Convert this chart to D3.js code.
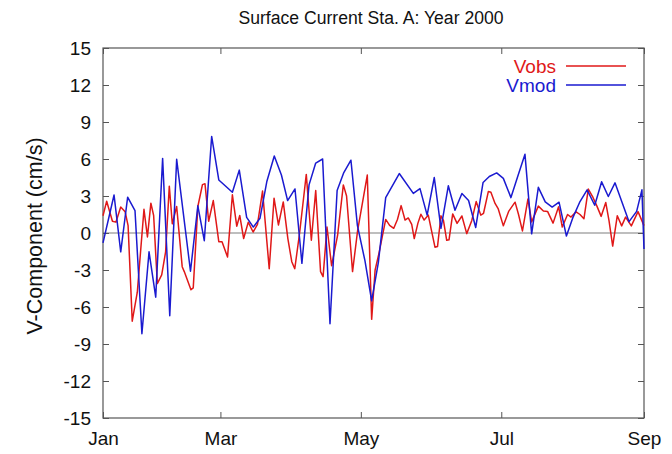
<!DOCTYPE html>
<html><head><meta charset="utf-8">
<script src="https://cdn.jsdelivr.net/npm/d3@7"></script>
<style>
html,body{margin:0;padding:0;background:#fff;}
text{font-family:"Liberation Sans",Arial,Helvetica,sans-serif;}
</style></head>
<body><svg id="c" width="672" height="454"></svg>
<script>
// Day of year 2000 (0 = Jan 1)
const obsDays = [9.0,10.6,13.1,14.6,16.7,18.6,19.9,21.7,23.9,26.8,28.3,29.8,31.0,32.6,34.5,36.2,37.8,39.1,41.0,43.4,44.3,47.2,48.2,50.2,52.2,53.3,54.9,56.9,59.3,60.7,63.1,65.2,67.1,68.4,70.1,72.1,74.2,76.1,78.3,81.2,83.3,85.2,87.3,89.3,91.0,92.3,94.4,97.3,99.5,101.4,103.5,104.6,106.3,108.3,110.9,113.4,114.8,117.4,119.6,123.8,125.7,127.2,128.9,131.8,133.5,135.3,136.9,138.5,140.2,141.6,143.1,144.2,145.8,147.1,148.5,150.3,151.7,153.2,154.3,155.8,156.9,158.3,159.3,160.9,162.8,164.9,167.0,169.2,171.1,173.1,174.3,176.4,177.5,179.3,180.7,182.9,185.2,188.0,189.5,191.2,193.6,195.2,198.1,200.3,202.1,204.5,206.9,208.5,210.8,212.3,214.5,216.2,217.9,219.8,221.8,223.5,225.4,227.4,228.8,230.4,232.4,234.3,236.0,238.5,241.4,244.0];
const obsV = [1.4,2.58,0.95,0.88,2.1,1.73,0.6,-7.15,-4.8,1.92,-0.32,2.42,1.42,-4.1,-3.4,-1.53,3.8,0.75,2.15,-2.73,-3.13,-4.6,-4.45,2.15,3.92,4.0,0.95,2.63,-0.7,-0.7,-1.95,3.1,0.55,1.42,-0.45,0.88,0.08,0.7,3.4,-2.9,2.82,0.65,2.52,-0.45,-2.33,-2.9,0.0,4.75,-0.59,3.45,-3.13,-3.54,0.48,-2.65,-0.2,3.9,3.0,-3.13,0.2,4.7,-7.0,-3.0,-1.63,1.1,0.62,0.38,1.1,2.22,1.05,1.22,0.7,-0.45,0.8,1.52,1.05,1.45,0.2,-1.15,-1.1,1.4,1.0,-0.59,-0.55,1.55,0.78,1.38,-0.05,1.02,2.55,1.45,1.6,3.37,3.3,2.4,1.95,0.58,1.75,2.5,1.5,0.17,2.76,0.9,2.18,1.78,1.75,0.8,2.12,0.48,1.5,1.29,1.72,1.5,1.15,3.56,2.9,2.2,1.35,2.47,1.0,-1.06,1.4,0.58,1.29,0.58,1.73,0.6];
const modDays = [9.0,13.8,16.7,19.7,22.9,25.9,29.0,31.9,34.9,38.0,41.0,47.0,50.2,53.0,56.2,59.3,65.2,68.2,71.4,74.3,77.2,80.2,83.4,86.5,89.2,92.4,95.4,98.5,101.4,104.4,107.6,110.7,113.6,116.7,119.5,122.8,125.7,128.6,131.8,137.7,143.8,146.7,149.8,152.9,155.8,159.0,161.9,164.9,167.8,170.9,174.1,176.8,180.0,182.9,186.2,189.0,192.3,195.2,198.1,201.1,204.1,207.1,210.3,213.2,216.2,219.3,222.6,225.6,228.5,231.4,237.5,240.8,243.1,244.0];
const modV = [-0.8,3.08,-1.53,2.9,1.82,-8.17,-1.53,-5.2,6.05,-6.7,5.97,-3.1,2.2,-0.62,7.83,4.3,3.3,5.1,1.27,0.48,1.2,4.2,6.25,4.7,2.63,3.57,-2.46,3.9,5.67,6.0,-7.36,3.45,4.9,5.9,0.62,-2.26,-5.5,-2.4,2.87,4.82,3.21,3.6,1.45,4.5,0.38,3.83,1.85,3.2,2.63,0.45,4.1,4.58,4.87,4.43,2.87,4.5,6.38,-0.07,3.7,2.52,2.1,2.5,-0.25,1.29,2.55,3.5,2.25,4.15,2.96,4.07,0.92,1.75,3.5,-1.3];
const yTicks = [-15,-12,-9,-6,-3,0,3,6,9,12,15];
const yTickLabels = ["-15","-12","-9","-6","-3","0","3","6","9","12","15"];
const xTickDays = [9,60,121,182,244];
const xTickLabels = ["Jan","Mar","May","Jul","Sep"];
const seriesNames = ["Vobs","Vmod"];
const seriesColors = ["#e01818","#1a1ad0"];
const titleText = "Surface Current Sta. A: Year 2000";
const yLabel = "V-Component (cm/s)";

const svg = d3.select("#c");
const L=103,R=644,T=48,B=418;
const x = d3.scaleLinear().domain([9,244]).range([L,R]);
const y = d3.scaleLinear().domain([-15,15]).range([B,T]);
const frameCol="#555";

// zero line
svg.append("line").attr("x1",L).attr("x2",R).attr("y1",y(0)).attr("y2",y(0))
  .attr("stroke","#a8a8a8").attr("stroke-width",1.5);

// frame
svg.append("rect").attr("x",L).attr("y",T).attr("width",R-L).attr("height",B-T)
  .attr("fill","none").attr("stroke",frameCol).attr("stroke-width",1.2);

// y axis (left inward ticks) + labels
const yAxis = d3.axisLeft(y).tickValues(yTicks).tickSizeInner(-6).tickSizeOuter(0).tickPadding(12)
  .tickFormat((d,i)=>yTickLabels[i]);
const gy = svg.append("g").attr("transform",`translate(${L},0)`).call(yAxis);
gy.select(".domain").remove();
gy.selectAll("line").attr("stroke",frameCol);
gy.selectAll("text").attr("font-size",19).attr("fill","#111").attr("dy","0.36em");
// right mirrored ticks
const gyr = svg.append("g").attr("transform",`translate(${R},0)`)
  .call(d3.axisRight(y).tickValues(yTicks).tickSizeInner(-6).tickSizeOuter(0).tickFormat(""));
gyr.select(".domain").remove();
gyr.selectAll("line").attr("stroke",frameCol);

// x axis
const xAxis = d3.axisBottom(x).tickValues(xTickDays).tickSizeInner(-6).tickSizeOuter(0)
  .tickPadding(14).tickFormat((d,i)=>xTickLabels[i]);
const gx = svg.append("g").attr("transform",`translate(0,${B})`).call(xAxis);
gx.select(".domain").remove();
gx.selectAll("line").attr("stroke",frameCol);
gx.selectAll("text").attr("font-size",19).attr("fill","#111");
const gxt = svg.append("g").attr("transform",`translate(0,${T})`)
  .call(d3.axisTop(x).tickValues(xTickDays).tickSizeInner(-6).tickSizeOuter(0).tickFormat(""));
gxt.select(".domain").remove();
gxt.selectAll("line").attr("stroke",frameCol);

// lines
const line = d3.line().x(d=>x(d[0])).y(d=>y(d[1]));
const obs = obsDays.map((d,i)=>[d,obsV[i]]);
const mod = modDays.map((d,i)=>[d,modV[i]]);
svg.append("path").datum(obs).attr("d",line).attr("fill","none")
  .attr("stroke",seriesColors[0]).attr("stroke-width",1.5).attr("stroke-linejoin","round");
svg.append("path").datum(mod).attr("d",line).attr("fill","none")
  .attr("stroke",seriesColors[1]).attr("stroke-width",1.5).attr("stroke-linejoin","round");

// legend
seriesNames.forEach((n,i)=>{
  const yy = 66 + i*19;
  svg.append("text").attr("x",556).attr("y",yy).attr("dy","0.36em").attr("text-anchor","end")
    .attr("font-size",19).attr("fill",seriesColors[i]).text(n);
  svg.append("line").attr("x1",566).attr("x2",626).attr("y1",yy).attr("y2",yy)
    .attr("stroke",seriesColors[i]).attr("stroke-width",1.5);
});

// title
svg.append("text").attr("x",371).attr("y",18).attr("dy","0.36em").attr("text-anchor","middle")
  .attr("font-size",17.6).attr("fill","#111").text(titleText);
// y label
svg.append("text").attr("transform","translate(34,236) rotate(-90)").attr("dy","0.36em")
  .attr("text-anchor","middle").attr("font-size",21.5).attr("fill","#111").text(yLabel);
</script></body></html>
